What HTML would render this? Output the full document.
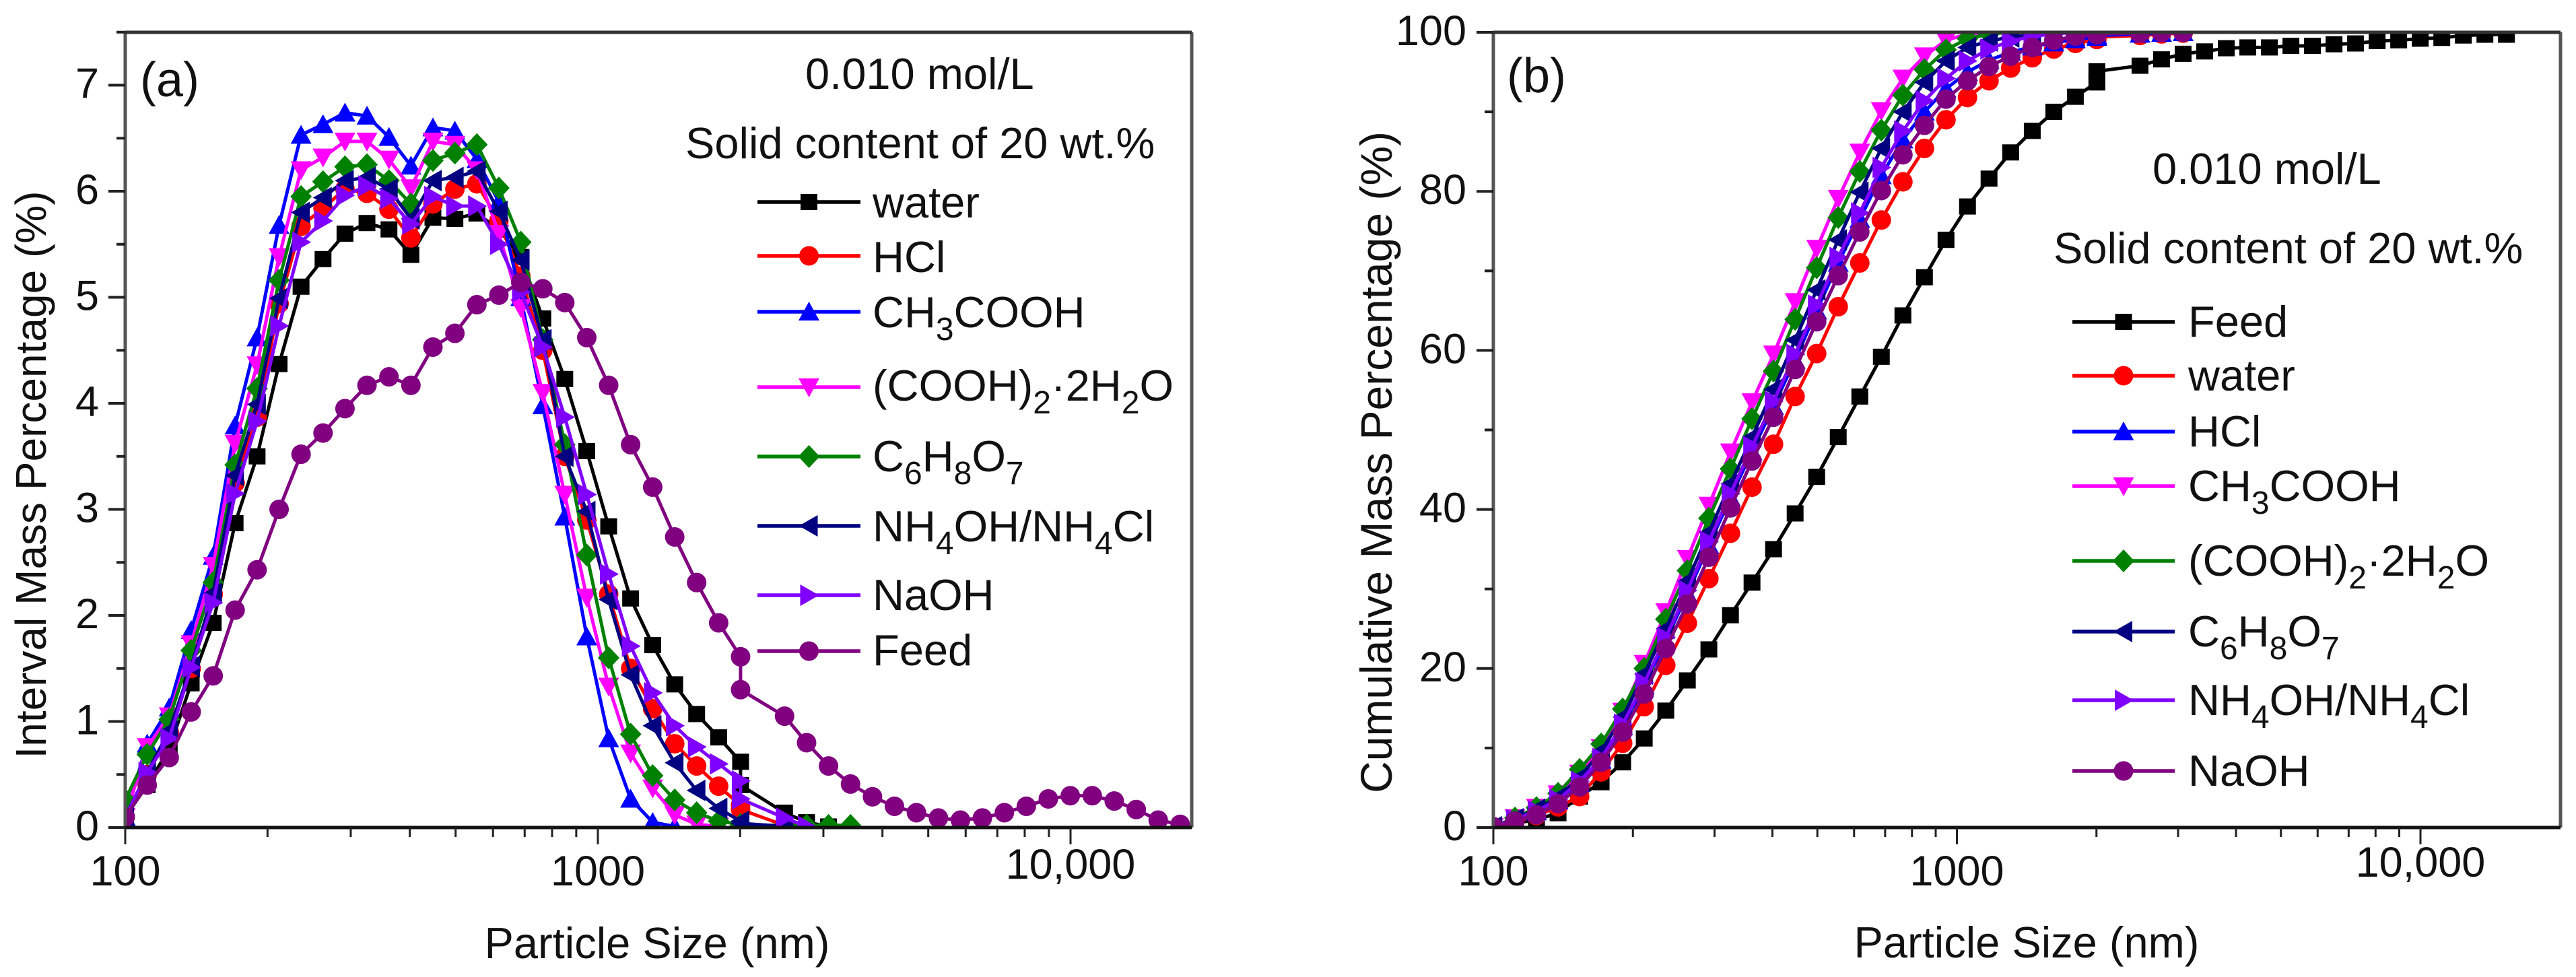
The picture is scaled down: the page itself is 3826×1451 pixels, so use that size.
<!DOCTYPE html>
<html lang="en">
<head>
<meta charset="utf-8">
<title>Particle size distributions</title>
<style>
html,body{margin:0;padding:0;background:#fff;}
svg{display:block;}
text{font-family:"Liberation Sans",Arial,sans-serif;fill:#111;}
</style>
</head>
<body>
<svg id="figure" xmlns="http://www.w3.org/2000/svg" width="3826" height="1451" viewBox="0 0 3826 1451">
  <defs>
    <clipPath id="clip-a"><rect x="186" y="48" width="1584" height="1181"/></clipPath>
    <clipPath id="clip-b"><rect x="2218" y="48" width="1585" height="1181"/></clipPath>
  </defs>
  <rect width="3826" height="1451" fill="#fff"/>
  <g id="panel-a">
    <g id="series-a" clip-path="url(#clip-a)"></g>
    <g id="axes-a"></g>
    <text x="208" y="143" font-size="72">(a)</text>
    <text transform="translate(68,705) rotate(-90)" text-anchor="middle" font-size="64">Interval Mass Percentage (%)</text>
    <text x="976" y="1423" text-anchor="middle" font-size="65">Particle Size (nm)</text>
    <text x="1196" y="132" font-size="65">0.010 mol/L</text>
    <text x="1018" y="235" font-size="65">Solid content of 20 wt.%</text>
    <g id="legend-a">
      <text x="1296" y="323" font-size="65">water</text>
      <text x="1296" y="404" font-size="65">HCl</text>
      <text x="1296" y="486" font-size="65">CH<tspan dy="19" font-size="48">3</tspan><tspan dy="-19">COOH</tspan></text>
      <text x="1296" y="595" font-size="65">(COOH)<tspan dy="19" font-size="48">2</tspan><tspan dy="-19">·2H</tspan><tspan dy="19" font-size="48">2</tspan><tspan dy="-19">O</tspan></text>
      <text x="1296" y="700" font-size="65">C<tspan dy="19" font-size="48">6</tspan><tspan dy="-19">H</tspan><tspan dy="19" font-size="48">8</tspan><tspan dy="-19">O</tspan><tspan dy="19" font-size="48">7</tspan></text>
      <text x="1296" y="804" font-size="65">NH<tspan dy="19" font-size="48">4</tspan><tspan dy="-19">OH/NH</tspan><tspan dy="19" font-size="48">4</tspan><tspan dy="-19">Cl</tspan></text>
      <text x="1296" y="906" font-size="65">NaOH</text>
      <text x="1296" y="988" font-size="65">Feed</text>
    </g>
  </g>
  <g id="panel-b">
    <g id="series-b" clip-path="url(#clip-b)"></g>
    <g id="axes-b"></g>
    <text x="2238" y="137" font-size="72">(b)</text>
    <text transform="translate(2067,1178) rotate(-90)" font-size="66">Cumulative Mass Percentage (%)</text>
    <text x="3010" y="1422" text-anchor="middle" font-size="65">Particle Size (nm)</text>
    <text x="3197" y="273" font-size="65">0.010 mol/L</text>
    <text x="3050" y="391" font-size="65">Solid content of 20 wt.%</text>
    <g id="legend-b">
      <text x="3250" y="500" font-size="65">Feed</text>
      <text x="3250" y="580" font-size="65">water</text>
      <text x="3250" y="663" font-size="65">HCl</text>
      <text x="3250" y="744" font-size="65">CH<tspan dy="19" font-size="48">3</tspan><tspan dy="-19">COOH</tspan></text>
      <text x="3250" y="855" font-size="65">(COOH)<tspan dy="19" font-size="48">2</tspan><tspan dy="-19">·2H</tspan><tspan dy="19" font-size="48">2</tspan><tspan dy="-19">O</tspan></text>
      <text x="3250" y="960" font-size="65">C<tspan dy="19" font-size="48">6</tspan><tspan dy="-19">H</tspan><tspan dy="19" font-size="48">8</tspan><tspan dy="-19">O</tspan><tspan dy="19" font-size="48">7</tspan></text>
      <text x="3250" y="1062" font-size="65">NH<tspan dy="19" font-size="48">4</tspan><tspan dy="-19">OH/NH</tspan><tspan dy="19" font-size="48">4</tspan><tspan dy="-19">Cl</tspan></text>
      <text x="3250" y="1167" font-size="65">NaOH</text>
    </g>
  </g>
</svg>
<script>
// ---- particle sizes (nm); the 2004 nm channel appears twice in the source data ----
const sizes = [100,111.3,123.9,137.9,153.5,170.8,190.1,211.6,235.5,262.1,291.7,324.7,361.4,402.2,447.7,498.3,554.6,617.3,687,764.7,851.1,947.3,1054,1173,1306,1454,1618,1801,2004,2004,2483,2764,3076,3424,3811,4241,4721,5254,5848,6509,7244,8063,8974,9988,11117,12373,13772,15328,17060];

// ---- panel (a): interval mass percentage ----
const aWater = [0.1,0.4,0.74,1.36,1.93,2.87,3.5,4.37,5.1,5.36,5.6,5.7,5.64,5.4,5.75,5.74,5.79,5.64,5.38,4.8,4.23,3.55,2.84,2.16,1.72,1.35,1.07,0.85,0.62,0.4,0.14,0.05,0.01];
const aHcl = [0.1,0.5,0.9,1.5,2.2,3.25,3.87,4.94,5.67,5.84,6.02,5.98,5.83,5.56,5.88,6.02,6.07,5.72,5.2,4.5,3.5,2.9,2.2,1.5,1.12,0.79,0.58,0.39,0.21,0.17,0.02];
const aAcetic = [0.1,0.79,1.13,1.86,2.56,3.79,4.62,5.68,6.53,6.63,6.74,6.71,6.51,6.24,6.6,6.57,6.3,5.9,5,3.98,2.93,1.8,0.84,0.27,0.05,0.01];
const aOxalic = [0.1,0.76,1.05,1.73,2.47,3.62,4.36,5.38,6.2,6.32,6.47,6.47,6.3,6.03,6.47,6.44,6.2,5.6,4.9,4.1,3.14,2.17,1.33,0.7,0.37,0.12,0.03,0.01];
const aCitric = [0.26,0.69,1.02,1.67,2.31,3.42,4.14,5.16,5.95,6.09,6.23,6.25,6.1,5.88,6.29,6.36,6.44,6.03,5.52,4.6,3.61,2.57,1.6,0.88,0.49,0.26,0.14,0.06,0.03,0.02,0.02,0.02,0.02,0.02];
const aAmmonia = [0.1,0.52,0.91,1.52,2.21,3.32,3.99,4.99,5.8,5.94,6.1,6.13,6.02,5.74,6.1,6.13,6.19,5.81,5.35,4.6,3.5,2.98,2.15,1.44,0.96,0.61,0.35,0.18,0.06,0.04,0.01];
const aNaoh = [0.1,0.52,0.84,1.51,2.12,3.15,3.83,4.73,5.52,5.72,5.96,6.05,5.93,5.69,5.95,5.86,5.86,5.5,5.05,4.53,3.87,3.14,2.39,1.71,1.27,0.96,0.76,0.6,0.44,0.27,0.09,0.01];
const aFeed = [0.1,0.4,0.66,1.09,1.43,2.05,2.43,3,3.52,3.72,3.95,4.17,4.25,4.17,4.53,4.66,4.93,5.02,5.14,5.08,4.95,4.62,4.17,3.61,3.21,2.74,2.31,1.93,1.61,1.3,1.05,0.8,0.58,0.41,0.29,0.2,0.14,0.09,0.07,0.09,0.14,0.2,0.27,0.3,0.3,0.25,0.17,0.07,0.03];
const aYTicks = [0,1,2,3,4,5,6,7];
const aYMinorTicks = [0.5,1.5,2.5,3.5,4.5,5.5,6.5,7.5];

// ---- panel (b): cumulative mass percentage ----
const bFeed = [0.1,0.5,1,1.8,3.9,5.7,8.2,11.2,14.7,18.5,22.4,26.7,30.8,35,39.5,44.1,49.1,54.2,59.2,64.4,69.2,73.9,78.1,81.6,84.9,87.6,90,91.9,93.7,95.1,95.8,96.6,97.3,97.6,98,98.1,98.1,98.3,98.3,98.5,98.6,98.9,99,99.2,99.3,99.6,99.7,99.7];
const bWater = [0.1,0.7,1.5,2.6,3.9,7,10.6,15.2,20.4,25.7,31.3,37,42.8,48.2,54.2,59.6,65.5,71,76.4,81.2,85.4,89,91.8,93.9,95.5,96.8,97.9,98.6,99.1,99.4,99.6,99.8,99.9];
const bHcl = [0.1,1,2,3.4,5.6,8.5,12.7,17.9,23.5,29.4,35.5,41.5,47.3,53,58.8,65,71,76.5,82,86.5,90,92.9,95,96.5,97.5,98.2,98.7,99.1,99.4,99.6,99.8,99.9,100];
const bAcetic = [0.1,1.2,2.5,4.2,6.8,10,14.6,20.6,27.1,33.8,40.5,47.2,53.5,59.5,66.1,72.8,79.1,84.9,90.1,94.2,97,99,99.8,100];
const bOxalic = [0.1,1.2,2.5,4.3,7.3,10.5,14.9,20,26.2,32.3,38.9,45.1,51.4,57.4,63.9,70.4,76.7,82.5,87.7,92.1,95.3,97.8,99.2,99.8,100];
const bCitric = [0.1,1.1,2.3,3.8,6.3,9.6,13.9,19.3,25,31,37.1,43.2,49.1,55.1,61.3,67.6,73.9,79.9,85.4,90,93.7,96.4,98.1,98.9,99.4,99.7,99.9,100];
const bAmmonia = [0.1,1,2.1,3.5,5.8,8.7,13,18.2,23.9,29.8,36,42,47.9,53.6,59.5,65.7,71.7,77.3,83,87.6,91.4,94.2,96.4,97.9,98.9,99.5,99.8,100];
const bNaoh = [0.1,0.8,1.6,3,5.1,8.2,12,16.8,22.5,28.1,34,40.2,46.1,51.6,57.6,63.6,69.4,74.9,80.1,84.6,88.3,91.6,93.9,95.7,97,98.1,99,99.5,99.7,99.8,99.9,100,100];
const bYTicks = [0,20,40,60,80,100];
const bYMinorTicks = [10,30,50,70,90];

// ---- shared x axis ----
const xMajorTicks = [100,1000,10000];
const xMajorLabels = ["100","1000","10,000"];
const xMinorTicks = [200,300,400,500,600,700,800,900,2000,3000,4000,5000,6000,7000,8000,9000];

const NS = "http://www.w3.org/2000/svg";
const xA = v => 186 + (Math.log10(v) - 2) * 702;
const yA = v => 1229 - v * 157.5;
const xB = v => 2218 + (Math.log10(v) - 2) * 688.5;
const yB = v => 1229 - v * 11.81;

function make(tag, attrs, parent) {
  const el = document.createElementNS(NS, tag);
  for (const k in attrs) el.setAttribute(k, attrs[k]);
  parent.appendChild(el);
  return el;
}

function marker(shape, cx, cy, color, parent) {
  let el;
  if (shape === "square") {
    el = make("rect", {x: cx - 12.5, y: cy - 12, width: 25, height: 24, fill: color}, parent);
  } else if (shape === "circle") {
    el = make("circle", {cx: cx, cy: cy, r: 14.5, fill: color}, parent);
  } else {
    let pts;
    if (shape === "up") pts = [[cx - 15.5, cy + 13], [cx + 15.5, cy + 13], [cx, cy - 15]];
    if (shape === "down") pts = [[cx - 15.5, cy - 13], [cx + 15.5, cy - 13], [cx, cy + 15]];
    if (shape === "left") pts = [[cx + 13, cy - 16], [cx + 13, cy + 16], [cx - 15, cy]];
    if (shape === "right") pts = [[cx - 13, cy - 16], [cx - 13, cy + 16], [cx + 15, cy]];
    if (shape === "diamond") pts = [[cx, cy - 17], [cx + 16, cy], [cx, cy + 17], [cx - 16, cy]];
    el = make("polygon", {points: pts.map(p => p.join(",")).join(" "), fill: color}, parent);
  }
  return el;
}

function drawSeries(parent, xs, values, color, shape, fx, fy, name) {
  const g = make("g", {}, parent);
  
  
  const pts = values.map((v, i) => fx(xs[i]).toFixed(1) + "," + fy(v).toFixed(1)).join(" ");
  const line = make("polyline", {points: pts, fill: "none", stroke: color, "stroke-width": 5, "stroke-linejoin": "round"}, g);
  
  
  values.forEach((v, i) => {
    const m = marker(shape, fx(xs[i]), fy(v), color, g);
    
    
  });
}

function drawLegendHandle(parent, x0, x1, y, color, shape) {
  const g = make("g", {}, parent);
  
  
  make("line", {x1: x0, x2: x1, y1: y, y2: y, stroke: color, "stroke-width": 5.5}, g);
  marker(shape, (x0 + x1) / 2, y, color, g);
}

function drawAxes(parent, left, right, fx, fy, yMajor, yMinor, yLabelEnd, bigLabelBaseline) {
  const axisColor = "#333";
  const frame = [
    [left, 48, left, 1229, "#555", 5, "left-axis-line"],
    [right, 48, right, 1229, "#555", 5, "right-axis-line"],
    [left, 48, right, 48, axisColor, 5, "top-axis-line"],
    [left, 1229, right, 1229, "#111", 5, "bottom-axis-line"]
  ];
  frame.forEach(f => {
    const l = make("line", {x1: f[0], y1: f[1], x2: f[2], y2: f[3], stroke: f[4], "stroke-width": f[5]}, parent);
    
    
  });
  yMajor.forEach(v => {
    const l = make("line", {x1: left - 25, x2: left, y1: fy(v), y2: fy(v), stroke: "#222", "stroke-width": 4}, parent);
    
    
    const t = make("text", {x: yLabelEnd, y: fy(v) + 19, "text-anchor": "end", "font-size": 63}, parent);
    
    
    t.textContent = String(v);
  });
  yMinor.forEach(v => {
    const l = make("line", {x1: left - 13, x2: left, y1: fy(v), y2: fy(v), stroke: "#222", "stroke-width": 4}, parent);
    
    
  });
  xMajorTicks.forEach((v, i) => {
    const l = make("line", {x1: fx(v), x2: fx(v), y1: 1229, y2: 1254, stroke: "#222", "stroke-width": 3}, parent);
    
    
    const t = make("text", {x: fx(v), y: v === 10000 ? bigLabelBaseline : 1315, "text-anchor": "middle", "font-size": 63}, parent);
    
    
    t.textContent = xMajorLabels[i];
  });
  xMinorTicks.forEach(v => {
    const l = make("line", {x1: fx(v), x2: fx(v), y1: 1229, y2: 1243, stroke: "#222", "stroke-width": 3}, parent);
    
    
  });
}

const C = {black: "#000000", red: "#ff0000", blue: "#0000ff", magenta: "#ff00ff", green: "#008000", navy: "#000080", violet: "#8000ff", purple: "#800080"};

const sa = document.getElementById("series-a");
drawSeries(sa, sizes, aWater, C.black, "square", xA, yA, "series-water");
drawSeries(sa, sizes, aHcl, C.red, "circle", xA, yA, "series-hcl");
drawSeries(sa, sizes, aAcetic, C.blue, "up", xA, yA, "series-acetic-acid");
drawSeries(sa, sizes, aOxalic, C.magenta, "down", xA, yA, "series-oxalic-acid");
drawSeries(sa, sizes, aCitric, C.green, "diamond", xA, yA, "series-citric-acid");
drawSeries(sa, sizes, aAmmonia, C.navy, "left", xA, yA, "series-ammonia-buffer");
drawSeries(sa, sizes, aNaoh, C.violet, "right", xA, yA, "series-naoh");
drawSeries(sa, sizes, aFeed, C.purple, "circle", xA, yA, "series-feed");

const sb = document.getElementById("series-b");
drawSeries(sb, sizes, bFeed, C.black, "square", xB, yB, "series-feed");
drawSeries(sb, sizes, bWater, C.red, "circle", xB, yB, "series-water");
drawSeries(sb, sizes, bHcl, C.blue, "up", xB, yB, "series-hcl");
drawSeries(sb, sizes, bAcetic, C.magenta, "down", xB, yB, "series-acetic-acid");
drawSeries(sb, sizes, bOxalic, C.green, "diamond", xB, yB, "series-oxalic-acid");
drawSeries(sb, sizes, bCitric, C.navy, "left", xB, yB, "series-citric-acid");
drawSeries(sb, sizes, bAmmonia, C.violet, "right", xB, yB, "series-ammonia-buffer");
drawSeries(sb, sizes, bNaoh, C.purple, "circle", xB, yB, "series-naoh");

drawAxes(document.getElementById("axes-a"), 186, 1770, xA, yA, aYTicks, aYMinorTicks, 147, 1305);
drawAxes(document.getElementById("axes-b"), 2218, 3803, xB, yB, bYTicks, bYMinorTicks, 2178, 1302);

const la = document.getElementById("legend-a");
drawLegendHandle(la, 1125, 1278, 300, C.black, "square");
drawLegendHandle(la, 1125, 1278, 380, C.red, "circle");
drawLegendHandle(la, 1125, 1278, 463, C.blue, "up");
drawLegendHandle(la, 1125, 1278, 575, C.magenta, "down");
drawLegendHandle(la, 1125, 1278, 678, C.green, "diamond");
drawLegendHandle(la, 1125, 1278, 781, C.navy, "left");
drawLegendHandle(la, 1125, 1278, 884, C.violet, "right");
drawLegendHandle(la, 1125, 1278, 967, C.purple, "circle");

const lb = document.getElementById("legend-b");
drawLegendHandle(lb, 3078, 3230, 478, C.black, "square");
drawLegendHandle(lb, 3078, 3230, 558, C.red, "circle");
drawLegendHandle(lb, 3078, 3230, 641, C.blue, "up");
drawLegendHandle(lb, 3078, 3230, 722, C.magenta, "down");
drawLegendHandle(lb, 3078, 3230, 833, C.green, "diamond");
drawLegendHandle(lb, 3078, 3230, 938, C.navy, "left");
drawLegendHandle(lb, 3078, 3230, 1040, C.violet, "right");
drawLegendHandle(lb, 3078, 3230, 1145, C.purple, "circle");
</script>
</body>
</html>
